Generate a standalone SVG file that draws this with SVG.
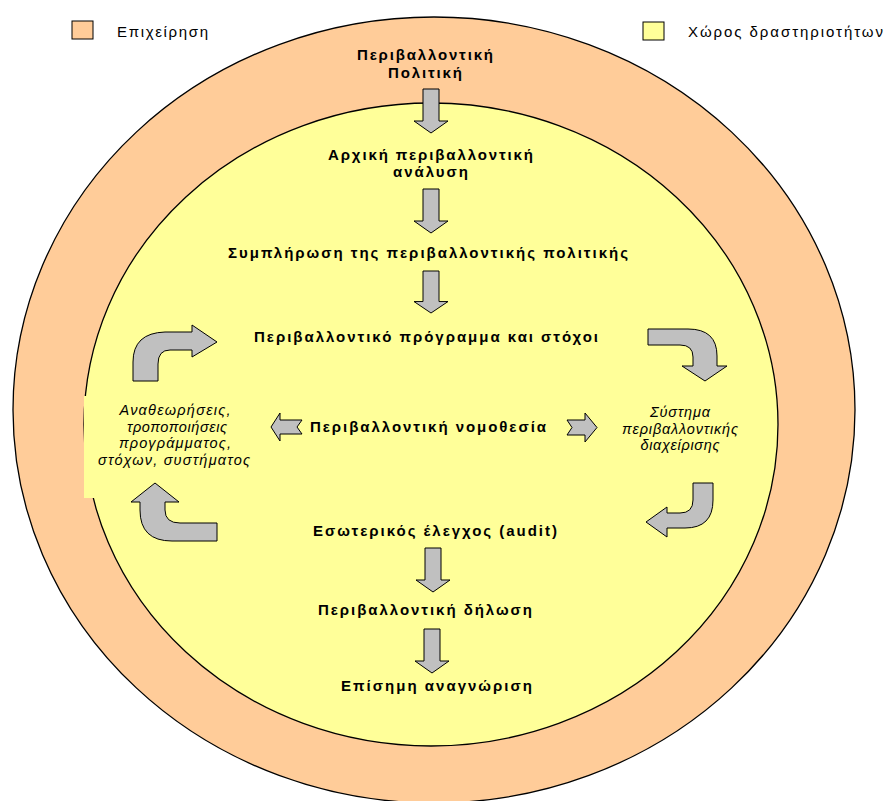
<svg xmlns="http://www.w3.org/2000/svg" xmlns:xlink="http://www.w3.org/1999/xlink" width="885" height="801" viewBox="0 0 885 801">
<style>
.b{font-family:"Liberation Sans",Arial,sans-serif;font-weight:bold;font-size:15px;fill:#000;text-anchor:middle}
.i{font-family:"Liberation Sans",Arial,sans-serif;font-style:italic;font-size:14.5px;fill:#000;text-anchor:middle}
.l{font-family:"Liberation Sans",Arial,sans-serif;font-size:15px;fill:#000}
.arr{fill:#C0C0C0;stroke:#000;stroke-width:1;stroke-linejoin:miter}
</style>
<defs>
<path id="down" d="M-8,0 H8 V32 H17 L0,44 L-17,32 H-8 Z"/>
</defs>
<rect width="885" height="801" fill="#fff"/>
<g id="legend">
<rect x="72" y="21" width="21" height="18" fill="#FFCC99" stroke="#000" stroke-width="1"/>
<text class="l" x="117" y="37" textLength="91" lengthAdjust="spacing">Επιχείρηση</text>
<rect x="643" y="22" width="21" height="18" fill="#FFFF99" stroke="#000" stroke-width="1"/>
<text class="l" x="688" y="37" textLength="195" lengthAdjust="spacing">Χώρος δραστηριοτήτων</text>
</g>
<g id="outer">
<ellipse cx="434" cy="410" rx="421" ry="393" fill="#FFCC99" stroke="#000" stroke-width="1.3"/>
</g>
<g id="inner">
<ellipse cx="431" cy="424.5" rx="347" ry="321.5" fill="#FFFF99" stroke="#000" stroke-width="1.3"/>
</g>
<g id="n5">
<rect x="84" y="396" width="180" height="102" fill="#FFFF99"/>
<text class="i" x="175" y="415" textLength="111" lengthAdjust="spacing">Αναθεωρήσεις,</text>
<text class="i" x="177" y="432" textLength="100" lengthAdjust="spacing">τροποποιήσεις</text>
<text class="i" x="175" y="448" textLength="112" lengthAdjust="spacing">προγράμματος,</text>
<text class="i" x="174" y="465" textLength="152" lengthAdjust="spacing">στόχων, συστήματος</text>
</g>
<g id="connectors">
<use href="#down" xlink:href="#down" class="arr" transform="translate(431,89)"/>
<use href="#down" xlink:href="#down" class="arr" transform="translate(431,189)"/>
<use href="#down" xlink:href="#down" class="arr" transform="translate(431,271) scale(1,0.955)"/>
<use href="#down" xlink:href="#down" class="arr" transform="translate(433,548)"/>
<use href="#down" xlink:href="#down" class="arr" transform="translate(432,629)"/>
<path class="arr" d="M133,381 L133,362 Q133,333 165,332 L192,332 L192,325 L217,342 L192,357 L192,350 L170,350 Q158,350 158,364 L158,381 Z"/>
<path class="arr" d="M217,541 L172,541 Q140,541 140,510 L140,502 L131,502 L155,483 L179,502 L165,502 L165,510 Q165,523 180,523 L217,523 Z"/>
<path class="arr" d="M648,329 L688,329 Q717,329 717,356 L717,366 L727,366 L705,381 L682,366 L693,366 L693,357 Q693,345 680,345 L648,345 Z"/>
<path class="arr" d="M693,483 L713,483 L713,500 Q713,528 685,528 L667,528 L667,537 L646,522 L667,507 L667,513 L680,513 Q693,513 693,500 Z"/>
<path class="arr" d="M271,427 L280,413 L280,420 L302,420 L297,427 L302,434 L280,434 L280,441 Z"/>
<path class="arr" d="M567,420 L585,420 L585,413 L597,427.5 L585,442 L585,435 L567,435 L572,427.5 Z"/>
</g>
<g id="n1">
<text class="b" x="425" y="60" textLength="136" lengthAdjust="spacing">Περιβαλλοντική</text>
<text class="b" x="425" y="78" textLength="74" lengthAdjust="spacing">Πολιτική</text>
</g>
<g id="n2">
<text class="b" x="430.5" y="160" textLength="205" lengthAdjust="spacing">Αρχική περιβαλλοντική</text>
<text class="b" x="430.5" y="177" textLength="75" lengthAdjust="spacing">ανάλυση</text>
</g>
<g id="n3">
<text class="b" x="428" y="258" textLength="400" lengthAdjust="spacing">Συμπλήρωση της περιβαλλοντικής πολιτικής</text>
</g>
<g id="n4">
<text class="b" x="426" y="342" textLength="344" lengthAdjust="spacing">Περιβαλλοντικό πρόγραμμα και στόχοι</text>
</g>
<g id="n6">
<text class="b" x="428" y="432" textLength="236" lengthAdjust="spacing">Περιβαλλοντική νομοθεσία</text>
</g>
<g id="n7">
<text class="i" x="680" y="417" textLength="60" lengthAdjust="spacing">Σύστημα</text>
<text class="i" x="680" y="434" textLength="116" lengthAdjust="spacing">περιβαλλοντικής</text>
<text class="i" x="680" y="450" textLength="79" lengthAdjust="spacing">διαχείρισης</text>
</g>
<g id="n8">
<text class="b" x="435" y="536" textLength="244" lengthAdjust="spacing">Εσωτερικός έλεγχος (audit)</text>
</g>
<g id="n9">
<text class="b" x="425" y="615" textLength="214" lengthAdjust="spacing">Περιβαλλοντική δήλωση</text>
</g>
<g id="n10">
<text class="b" x="436.5" y="691" textLength="191" lengthAdjust="spacing">Επίσημη αναγνώριση</text>
</g>
</svg>
